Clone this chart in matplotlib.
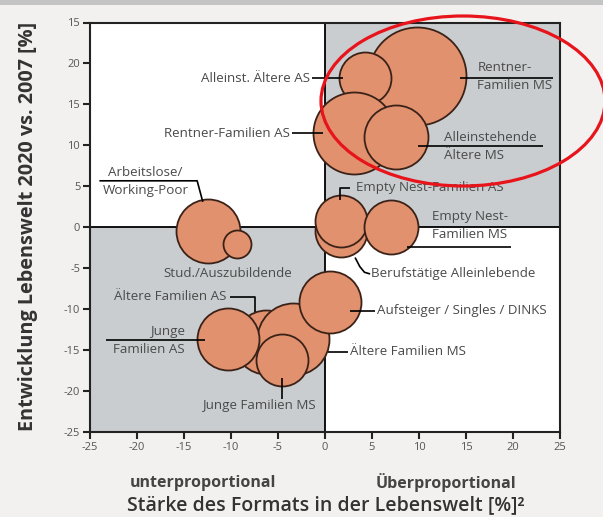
import matplotlib
matplotlib.use("Agg")
import matplotlib.pyplot as plt
from matplotlib.patches import Ellipse, Rectangle
import numpy as np

plt.rcParams["axes.unicode_minus"] = False

# ---------------- data ----------------
segments = ["Rentner-Familien MS", "Alleinst. Ältere AS", "Rentner-Familien AS",
            "Alleinstehende Ältere MS", "Berufstätige Alleinlebende",
            "Empty Nest-Familien AS", "Empty Nest-Familien MS",
            "Arbeitslose/Working-Poor", "Stud./Auszubildende",
            "Ältere Familien AS", "Ältere Familien MS", "Junge Familien AS",
            "Aufsteiger / Singles / DINKS", "Junge Familien MS"]
strength = [9.8, 4.3, 3.1, 7.6, 1.7, 1.7, 7.0, -12.5, -9.4, -6.3, -3.4, -10.3, 0.5, -4.6]
development = [18.5, 18.2, 11.5, 11.0, -0.5, 0.8, 0.0, -0.5, -2.0, -14.0, -13.7, -13.7, -9.1, -16.2]
bubble_radius = [49, 26, 41, 32, 26, 26, 27, 32, 14, 32, 36, 31, 31, 26]

x_ticks = [-25, -20, -15, -10, -5, 0, 5, 10, 15, 20, 25]
y_ticks = [-25, -20, -15, -10, -5, 0, 5, 10, 15, 20, 25]
y_tick_labels = ["-25", "-20", "-15", "-10", "-5", "0", "5", "10", "15", "20", "15"]

# labels: (text, x, y, ha) and leader lines
labels = [
    ("Alleinst. Ältere AS", -1.6, 18.2, "right"),
    ("Rentner-Familien AS", -3.7, 11.5, "right"),
    ("Rentner-\nFamilien MS", 16.2, 18.35, "left"),
    ("Alleinstehende\nÄltere MS", 12.7, 9.9, "left"),
    ("Empty Nest-Familien AS", 3.3, 4.8, "left"),
    ("Empty Nest-\nFamilien MS", 11.4, 0.2, "left"),
    ("Arbeitslose/\nWorking-Poor", -19.1, 5.55, "center"),
    ("Stud./Auszubildende", -10.3, -5.7, "center"),
    ("Ältere Familien AS", -10.45, -8.5, "right"),
    ("Junge\nFamilien AS", -14.9, -13.8, "right"),
    ("Junge Familien MS", -7.0, -21.8, "center"),
    ("Aufsteiger / Singles / DINKS", 5.5, -10.2, "left"),
    ("Ältere Familien MS", 2.7, -15.2, "left"),
    ("Berufstätige Alleinlebende", 4.9, -5.7, "left"),
]
leaders = [
    ([-1.39, 1.92], [18.2, 18.2]),
    ([-3.5, -0.2], [11.5, 11.5]),
    ([14.4, 24.3], [18.2, 18.2]),
    ([9.9, 23.2], [9.9, 9.9]),
    ([1.6, 1.6, 2.7], [3.35, 4.8, 4.8]),
    ([8.7, 19.8], [-2.4, -2.4]),
    ([-24.0, -13.6, -13.0], [5.67, 5.67, 3.1]),
    ([-10.1, -7.5, -7.5], [-8.5, -8.5, -10.4]),
    ([-23.3, -12.8], [-13.8, -13.8]),
    ([-4.6, -4.6], [-18.35, -21.0]),
    ([2.67, 5.33], [-10.2, -10.2]),
    ([0.3, 2.45], [-15.2, -15.2]),
    ([3.2, 3.7, 4.2, 4.8], [-3.7, -4.8, -5.5, -5.7]),
]

# ---------------- style ----------------
BG = "#F3F1F0"
GRAY = "#CACDD0"
FILL = "#E1916E"
EDGE = "#3B2218"
TXT = "#4A4A4A"
small_font = ["Open Sans", "DejaVu Sans"]
label_font = ["Open Sans", "DejaVu Sans"]

fig = plt.figure(figsize=(6.03, 5.17), dpi=100, facecolor=BG)
ax = fig.add_axes([90 / 603, 1 - 432 / 517, 470 / 603, 409.5 / 517])
ax.set_facecolor("white")
ax.set_xlim(-25, 25)
ax.set_ylim(-25, 25)

# quadrants
ax.add_patch(Rectangle((0, 0), 25, 25, facecolor=GRAY, edgecolor="none", zorder=0))
ax.add_patch(Rectangle((-25, -25), 25, 25, facecolor=GRAY, edgecolor="none", zorder=0))
ax.axhline(0, color="black", lw=1.3, zorder=1)
ax.axvline(0, color="black", lw=1.3, zorder=1)

px_to_pt = 72 / fig.dpi
for i in range(len(segments)):
    s = (2 * bubble_radius[i] * px_to_pt) ** 2
    ax.scatter([strength[i]], [development[i]], s=s, c=FILL, edgecolors=EDGE,
               linewidths=1.3, zorder=2 + i * 0.01)

for xs, ys in leaders:
    ax.plot(xs, ys, color="black", lw=1.2, zorder=3, solid_capstyle="butt")

for text, x, y, ha in labels:
    ax.text(x, y, text, ha=ha, va="center", fontsize=9.6, color=TXT,
            family=small_font, linespacing=1.5, zorder=4)

for sp in ax.spines.values():
    sp.set_linewidth(1.5)
    sp.set_color("#222222")
ax.set_xticks(x_ticks)
ax.set_yticks(y_ticks)
ax.set_yticklabels(y_tick_labels)
ax.tick_params(direction="out", length=5, width=1.5, labelsize=8, labelcolor="#555555",
               color="#222222", pad=2)
for lab in ax.get_xticklabels() + ax.get_yticklabels():
    lab.set_family(small_font)

fig.text(28 / 603, 1 - 226 / 517, "Entwicklung Lebenswelt 2020 vs. 2007 [%]",
         rotation=90, ha="center", va="center", fontsize=14.3, fontweight="bold",
         color="#333333", family=label_font)
fig.text(326 / 603, 1 - 505 / 517, "Stärke des Formats in der Lebenswelt [%]²",
         ha="center", va="center", fontsize=14, fontweight="semibold",
         color="#333333", family=label_font)
fig.text(203 / 603, 1 - 483 / 517, "unterproportional", ha="center", va="center",
         fontsize=11.5, fontweight="bold", color="#444444", family=label_font)
fig.text(446 / 603, 1 - 483 / 517, "Überproportional", ha="center", va="center",
         fontsize=11.5, fontweight="bold", color="#444444", family=label_font)

# top border band
fig.add_artist(Rectangle((0, 1 - 5 / 517), 1, 5 / 517, transform=fig.transFigure,
                         facecolor="#C4C4C4", edgecolor="none"))
# red highlight ellipse
fig.add_artist(Ellipse((463 / 603, 1 - 101 / 517), 284 / 603, 170 / 517,
                       transform=fig.transFigure, facecolor="none",
                       edgecolor="#E8141B", lw=2.3, zorder=10))

fig.savefig("out.png", dpi=100, facecolor=BG)
